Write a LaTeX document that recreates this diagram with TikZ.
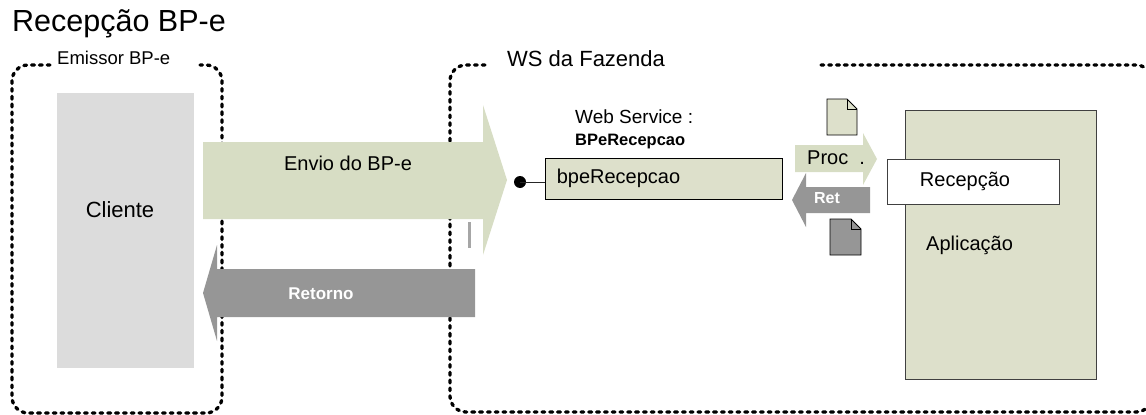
\documentclass[tikz,border=0pt]{standalone}
\usepackage{fontspec}
\setmainfont{Liberation Sans}
\usetikzlibrary{calc}
\usetikzlibrary{positioning}

\definecolor{oliva}{RGB}{215,221,196}
\definecolor{caixa}{RGB}{221,224,203}
\definecolor{cinza}{RGB}{150,150,150}
\definecolor{clientecor}{RGB}{220,220,220}

\newcommand{\tam}[1]{\fontsize{#1}{#1}\selectfont}

\begin{document}
\begin{tikzpicture}[x=1pt, y=-1pt,
  limite/.style={line width=3.3pt, dash pattern=on 2.8pt off 5pt, line cap=round, rounded corners=16pt},
  rotulo/.style={inner sep=0pt, text=black},
  borda/.style={line width=0.8pt},
  doc/.style={draw=black, line width=0.8pt}]

\useasboundingbox (0,0) rectangle (1146,415);
\clip (0,0) rectangle (1146,415);

% titulo
\node[rotulo, anchor=west] (titulo) at (12,24) {\tam{30.5}Recepção BP-e};

% limites tracejados
\draw[limite] (50,65) -- (12,65) -- (12,413) -- (222,413) -- (222,65) -- (200,65);
\draw[limite] (485,65) -- (450,65) -- (450,412) -- (1152,412) -- (1152,65) -- (819,65);

\node[rotulo, anchor=west] (emissor) at (57,58) {\tam{18.5}Emissor BP-e};
\node[rotulo, anchor=west] (fazenda) at (507,59) {\tam{22}WS da Fazenda};

% cliente
\fill[clientecor] (57,93) rectangle (194,368);
\node[rotulo] (cliente) at (120,210) {\tam{22}Cliente};

% envio
\fill[oliva] (203,142) -- (483,142) -- (483,105) -- (507,180) -- (483,255) -- (483,219) -- (203,219) -- cycle;
\node[rotulo] (envio) at (348,163) {\tam{20}Envio do BP-e};

% retorno
\fill[cinza] (203,293) -- (217,245) -- (217,269) -- (475,269) -- (475,317) -- (217,317) -- (217,341) -- cycle;
\node[rotulo, text=white] (retorno) at (321,294) {\tam{17}\bfseries Retorno};

\fill[gray!70] (468,222) rectangle (471,248);

% web service
\node[rotulo, anchor=west] (wsnome) at (575,117) {\tam{19}Web Service :};
\node[rotulo, anchor=west] (wsid) at (575,142) {\tam{16.5}\bfseries BPeRecepcao};

\node[draw, borda, fill=caixa, minimum width=237pt, minimum height=41pt, inner sep=0pt] (bpe) at (663.5,178.5) {};
\node[rotulo, anchor=west] (bpetxt) at ([xshift=12pt]bpe.west) {\tam{20}bpeRecepcao};

\coordinate (ponto) at (520,182);
\fill (ponto) circle[radius=6pt];
\draw[gray!30!black, borda] (ponto) -- (bpe.west |- ponto);

% proc e ret
\fill[oliva] (795,145) -- (863,145) -- (863,133) -- (877,159) -- (863,185) -- (863,172) -- (795,172) -- cycle;
\node[rotulo, anchor=west] (proc) at (807,158) {\tam{20}Proc\hspace{11pt}.};

\fill[cinza] (792,200) -- (806,173) -- (806,187) -- (870,187) -- (870,213) -- (806,213) -- (806,227) -- cycle;
\node[rotulo, text=white] (ret) at (827,198) {\tam{16}\bfseries Ret};

\draw[doc, fill=caixa] (827,99) -- (847,99) -- (857,109) -- (857,135) -- (827,135) -- cycle;
\draw[doc] (847,99) -- (847,109) -- (857,109);

\draw[doc, fill=cinza] (830,219) -- (851,219) -- (861,229) -- (861,255) -- (830,255) -- cycle;
\draw[doc] (851,219) -- (851,229) -- (861,229);

% aplicacao
\draw[borda, fill=caixa, draw=gray!50!black] (905,110) rectangle (1096,379);
\draw[borda, fill=white, draw=gray!50!black] (887,159) rectangle (1059,204);
\node[rotulo] (recepcao) at (965,181) {\tam{20}Recepção};
\node[rotulo, anchor=west] (aplicacao) at (926,245) {\tam{20}Aplicação};

\end{tikzpicture}
\end{document}
